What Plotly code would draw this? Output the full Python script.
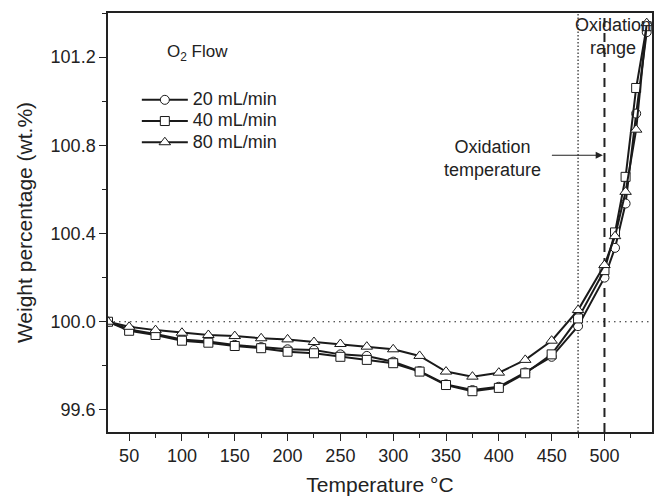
import plotly.graph_objects as go

temps = [30, 50, 75, 100, 125, 150, 175, 200, 225, 250, 275, 300, 325, 350,
         375, 400, 425, 450, 475, 500, 510, 520, 530, 540]

flow_20 = [100.0, 99.965, 99.945, 99.92, 99.91, 99.895, 99.885, 99.875, 99.872,
           99.852, 99.845, 99.819, 99.776, 99.716, 99.69, 99.705, 99.77, 99.841,
           99.98, 100.2, 100.335, 100.536, 100.944, 101.313]
flow_40 = [100.0, 99.959, 99.94, 99.914, 99.905, 99.89, 99.88, 99.864, 99.857,
           99.841, 99.827, 99.812, 99.774, 99.713, 99.685, 99.70, 99.766, 99.852,
           100.015, 100.234, 100.405, 100.657, 101.06, 101.34]
flow_80 = [100.0, 99.977, 99.962, 99.95, 99.94, 99.935, 99.925, 99.92, 99.908,
           99.899, 99.887, 99.875, 99.845, 99.774, 99.751, 99.769, 99.827, 99.914,
           100.053, 100.257, 100.388, 100.589, 100.871, 101.354]

series_names = ["20 mL/min", "40 mL/min", "80 mL/min"]
series_symbols = ["circle", "square", "triangle-up"]

baseline = 100.0
oxidation_temp = 475
oxidation_range = 500
x_range = [30, 545]
y_range = [99.5, 101.4]

FONT = "Arial, Liberation Sans, sans-serif"
INK = "#222222"

fig = go.Figure()
for name, sym, vals in zip(series_names, series_symbols, [flow_20, flow_40, flow_80]):
    fig.add_trace(go.Scatter(
        x=temps, y=vals,
        name="<span style='font-size:18px'>" + name + "</span>",
        mode="lines+markers",
        line=dict(color="#1a1a1a", width=2),
        marker=dict(symbol=sym, size=9 if sym != "triangle-up" else 10,
                    color="white", line=dict(color="#1a1a1a", width=1)),
    ))

# reference lines
fig.add_shape(type="line", xref="paper", yref="y", x0=0, x1=1, y0=baseline, y1=baseline,
              line=dict(color=INK, width=1.2, dash="1.5px,4px"), layer="below")
fig.add_shape(type="line", xref="x", yref="paper", x0=oxidation_temp, x1=oxidation_temp, y0=0, y1=1,
              line=dict(color=INK, width=1.2, dash="1.5px,2px"), layer="below")
fig.add_shape(type="line", xref="x", yref="paper", x0=oxidation_range, x1=oxidation_range, y0=0, y1=1,
              line=dict(color=INK, width=2, dash="9px,6px"), layer="below")

fig.add_annotation(xref="paper", yref="paper", x=0.104, y=0.9045, xanchor="left", yanchor="middle",
                   text="O<sub>2</sub> Flow", showarrow=False,
                   font=dict(family=FONT, size=17, color=INK))
fig.add_annotation(xref="x", yref="y", x=394, y=100.741, xanchor="center", yanchor="middle",
                   text="Oxidation<br>temperature", showarrow=False, align="center",
                   font=dict(family=FONT, size=18, color=INK))
fig.add_annotation(xref="x", yref="y", x=oxidation_range - 1.5, y=100.755,
                   axref="x", ayref="y", ax=448.8, ay=100.755,
                   text="", showarrow=True, arrowhead=2, arrowsize=1.2, arrowwidth=1.2,
                   arrowcolor=INK)
fig.add_annotation(xref="x", yref="y", x=508.5, y=101.293, xanchor="center", yanchor="middle",
                   text="Oxidation<br>range", showarrow=False, align="center",
                   font=dict(family=FONT, size=18, color=INK))

fig.update_layout(
    width=655, height=497,
    margin=dict(l=108, r=1, t=13, b=65),
    paper_bgcolor="white", plot_bgcolor="white",
    font=dict(family=FONT, color=INK),
    showlegend=True,
    legend=dict(x=0.053, y=0.83, xanchor="left", yanchor="top",
                bgcolor="rgba(0,0,0,0)", borderwidth=0,
                font=dict(family=FONT, size=14, color=INK),
                itemwidth=46, tracegroupgap=0),
    xaxis=dict(range=x_range, tick0=0, dtick=50, ticks="outside", ticklen=7, tickwidth=1.2,
               tickcolor=INK, showline=True, linecolor=INK, linewidth=1.5, mirror=True,
               showgrid=False, zeroline=False,
               tickfont=dict(family=FONT, size=18, color=INK),
               minor=dict(dtick=25, tick0=0, ticks="outside", ticklen=4, tickwidth=1.2, tickcolor=INK),
               title=dict(text="Temperature °C", font=dict(family=FONT, size=21, color=INK), standoff=12)),
    yaxis=dict(range=y_range, tick0=99.6, dtick=0.4, tickformat=".1f", ticks="outside", ticklen=7,
               tickwidth=1.2, tickcolor=INK, showline=True, linecolor=INK, linewidth=1.5, mirror=True,
               showgrid=False, zeroline=False,
               tickfont=dict(family=FONT, size=18, color=INK),
               minor=dict(dtick=0.2, tick0=99.6, ticks="outside", ticklen=4, tickwidth=1.2, tickcolor=INK),
               title=dict(text="Weight percentage (wt.%)", font=dict(family=FONT, size=21, color=INK), standoff=12)),
)

fig.write_html("out.html")
